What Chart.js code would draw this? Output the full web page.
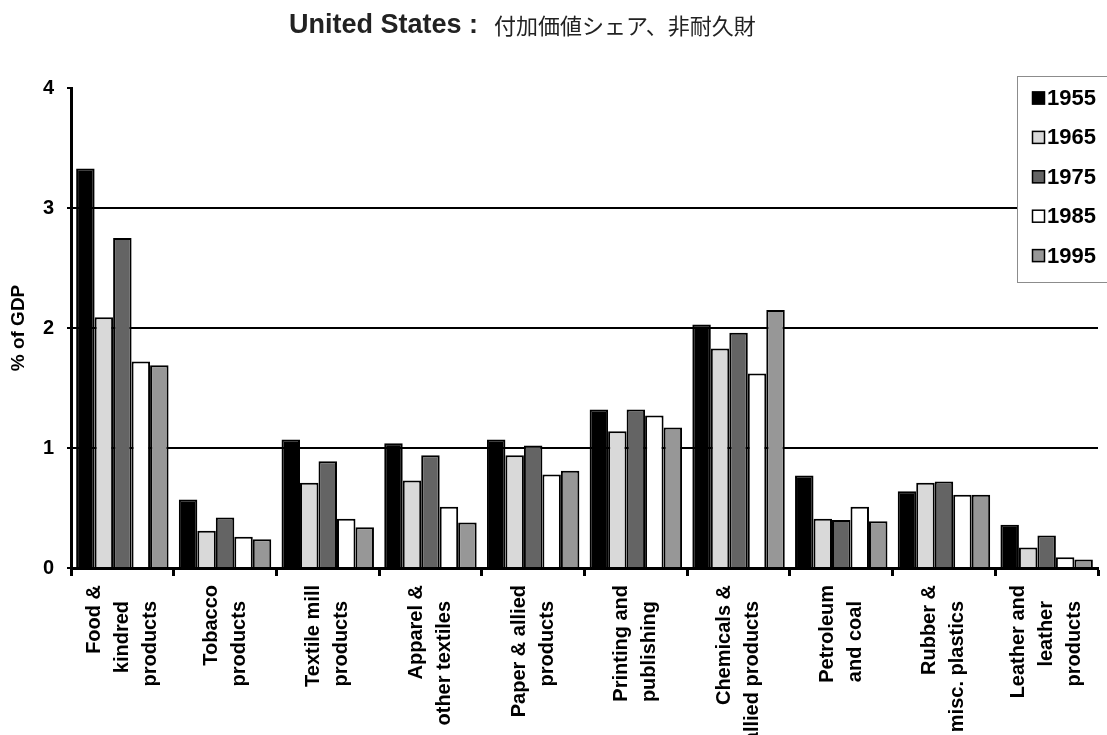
<!DOCTYPE html>
<html>
<head>
<meta charset="utf-8">
<script src="https://cdn.jsdelivr.net/npm/chart.js@4"></script>
<style>
    html, body { margin: 0; padding: 0; background: #ffffff; }
    #wrap { width: 1107px; height: 735px; position: relative; }
</style>
</head>
<body>
<div id="wrap"><canvas id="chart" width="1107" height="735"></canvas></div>
<script>
// industries (wrapped the same way as on the axis)
const categories = [
    ['Food &', 'kindred', 'products'],
    ['Tobacco', 'products'],
    ['Textile mill', 'products'],
    ['Apparel &', 'other textiles'],
    ['Paper & allied', 'products'],
    ['Printing and', 'publishing'],
    ['Chemicals &', 'allied products'],
    ['Petroleum', 'and coal'],
    ['Rubber &', 'misc. plastics'],
    ['Leather and', 'leather', 'products']
];

const years = ['1955', '1965', '1975', '1985', '1995'];

// value added, % of GDP
const share1955 = [3.33, 0.57, 1.07, 1.04, 1.07, 1.32, 2.03, 0.77, 0.64, 0.36];
const share1965 = [2.09, 0.31, 0.71, 0.73, 0.94, 1.14, 1.83, 0.41, 0.71, 0.17];
const share1975 = [2.75, 0.42, 0.89, 0.94, 1.02, 1.32, 1.96, 0.40, 0.72, 0.27];
const share1985 = [1.72, 0.26, 0.41, 0.51, 0.78, 1.27, 1.62, 0.51, 0.61, 0.09];
const share1995 = [1.69, 0.24, 0.34, 0.38, 0.81, 1.17, 2.15, 0.39, 0.61, 0.07];

const yTicks = [0, 1, 2, 3, 4];
const fills = ['#000000', '#d9d9d9', '#646464', '#ffffff', '#979797'];

const FONT = '"Liberation Sans", Arial, sans-serif';

const series = [share1955, share1965, share1975, share1985, share1995];
const datasets = series.map((vals, i) => ({
    label: years[i],
    data: vals,
    backgroundColor: fills[i],
    borderColor: '#000000',
    borderWidth: 2,
    categoryPercentage: 0.9,
    barPercentage: 1.0
}));

// title: bold country name + japanese subtitle
const titlePlugin = {
    id: 'mixedTitle',
    afterDraw(chart) {
        const ctx = chart.ctx;
        ctx.save();
        ctx.fillStyle = '#222222';
        ctx.textBaseline = 'alphabetic';
        ctx.textAlign = 'left';
        ctx.font = 'bold 27px ' + FONT;
        const head = 'United States :';
        ctx.fillText(head, 289, 33);
        const w = ctx.measureText(head).width;
        ctx.font = '22px "Noto Sans CJK JP", sans-serif';
        ctx.fillText('付加価値シェア、非耐久財', 289 + w + 16, 34);
        ctx.restore();
    }
};

// vertical, wrapped category labels under the x axis
const xLabelPlugin = {
    id: 'xLabels',
    afterDraw(chart) {
        const ctx = chart.ctx;
        const xs = chart.scales.x;
        ctx.save();
        ctx.fillStyle = '#000000';
        ctx.font = 'bold 20px ' + FONT;
        ctx.textAlign = 'right';
        ctx.textBaseline = 'alphabetic';
        chart.data.labels.forEach((lines, i) => {
            const c = xs.getPixelForValue(i) + 1;
            const n = lines.length;
            lines.forEach((line, j) => {
                const bx = c + 4.5 + (j - (n - 1) / 2) * 28;
                const top = j === 0 ? 585 : 601;
                ctx.save();
                ctx.translate(bx, top);
                ctx.rotate(-Math.PI / 2);
                ctx.fillText(line, 0, 0);
                ctx.restore();
            });
        });
        ctx.restore();
    }
};

// boxed legend in the top right corner
const legendPlugin = {
    id: 'boxLegend',
    afterDraw(chart) {
        const ctx = chart.ctx;
        ctx.save();
        ctx.fillStyle = '#ffffff';
        ctx.fillRect(1017, 76, 100, 207);
        ctx.strokeStyle = '#8c8c8c';
        ctx.lineWidth = 1;
        ctx.strokeRect(1017.5, 76.5, 100, 206);
        ctx.font = 'bold 22px ' + FONT;
        ctx.textAlign = 'left';
        ctx.textBaseline = 'middle';
        chart.data.datasets.forEach((ds, i) => {
            const y = 98 + i * 39.4;
            ctx.fillStyle = ds.backgroundColor;
            ctx.fillRect(1032, y - 6.5, 13, 13);
            ctx.strokeStyle = '#000000';
            ctx.lineWidth = 1.5;
            ctx.strokeRect(1032.5, y - 6, 12, 12);
            ctx.fillStyle = '#000000';
            ctx.fillText(ds.label, 1047, y + 1);
        });
        ctx.restore();
    }
};

new Chart(document.getElementById('chart'), {
    type: 'bar',
    data: {
        labels: categories,
        datasets: datasets
    },
    options: {
        responsive: false,
        animation: false,
        layout: { padding: { top: 88, right: 9, bottom: 0, left: 0 } },
        plugins: {
            legend: { display: false },
            title: { display: false },
            tooltip: { enabled: false }
        },
        scales: {
            x: {
                afterFit: (scale) => { scale.height = 167; },
                border: { color: '#000000', width: 3 },
                grid: {
                    offset: true,
                    color: 'rgba(0,0,0,0)',
                    tickColor: '#000000',
                    tickWidth: 3,
                    tickLength: 8
                },
                ticks: { display: false }
            },
            y: {
                min: 0,
                max: 4,
                afterFit: (scale) => { scale.width = 71; },
                afterBuildTicks: (scale) => { scale.ticks = yTicks.map(v => ({ value: v })); },
                border: { color: '#000000', width: 3 },
                grid: {
                    color: (c) => (c.tick && c.tick.value > 0 && c.tick.value < 4) ? '#000000' : 'rgba(0,0,0,0)',
                    lineWidth: 2,
                    tickColor: '#000000',
                    tickLength: 4
                },
                ticks: {
                    color: '#000000',
                    padding: 13,
                    font: { family: FONT, size: 20, weight: 'bold' }
                },
                title: {
                    display: true,
                    text: '% of GDP',
                    color: '#000000',
                    padding: { top: 7, bottom: 0 },
                    font: { family: FONT, size: 19, weight: 'bold' }
                }
            }
        }
    },
    plugins: [titlePlugin, xLabelPlugin, legendPlugin]
});
</script>
</body>
</html>
